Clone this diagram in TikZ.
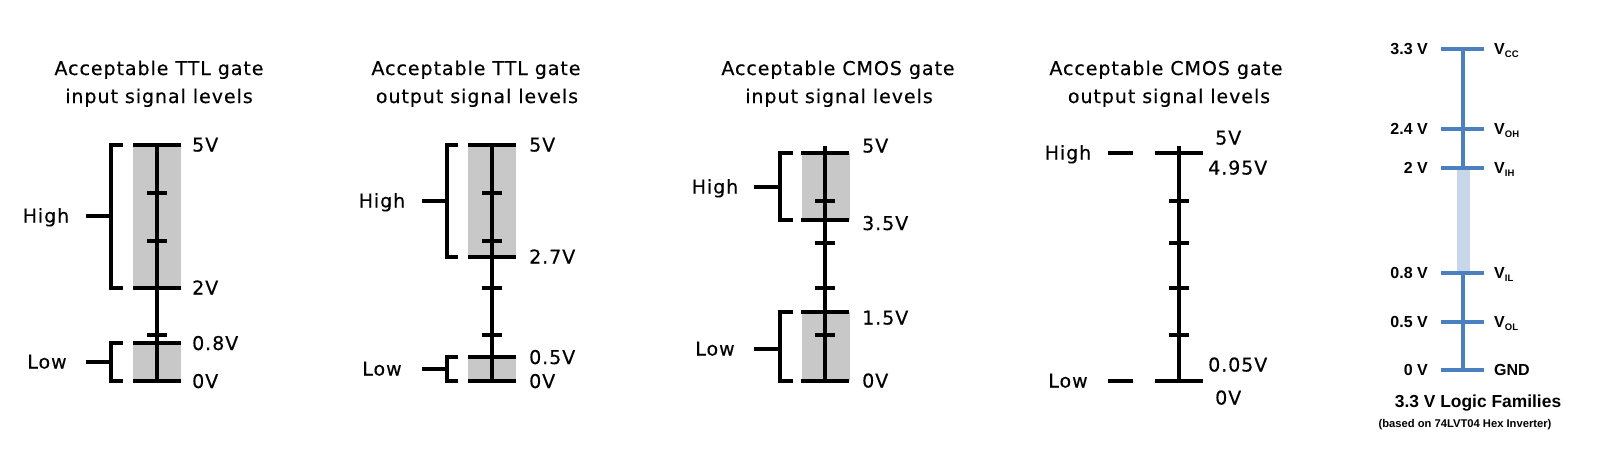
\documentclass[tikz,border=0pt]{standalone}
\usepackage{fontspec}
\setmainfont{DejaVu Sans}[LetterSpace=5,FakeBold=0.35]
\newfontfamily\arialf{Liberation Sans}
\definecolor{boxgray}{RGB}{200,200,200}
\definecolor{lblue}{RGB}{74,128,192}
\definecolor{bandblue}{RGB}{200,214,234}
\newcommand\lngtick[2]{\draw[ln] ({#1-24},#2) -- ({#1+24},#2);}
\newcommand\shtick[2]{\draw[ln] ({#1-10},#2) -- ({#1+10},#2);}
\newcommand\bluetick[1]{\draw[bl] (1441,#1) -- (1484,#1);}
\begin{document}
\begin{tikzpicture}[x=1pt,y=-1pt,
  ln/.style={line width=3.2pt,black},
  bl/.style={line width=3.3pt,lblue},
  txt/.style={font=\fontsize{19}{21}\selectfont,inner sep=0pt},
  bt/.style={font=\arialf\bfseries\fontsize{16}{18}\selectfont,inner sep=0pt}]
\useasboundingbox[fill=white] (0,0) rectangle (1600,458);

% ---------- Panel 1: TTL input ----------
\node[txt,anchor=base] (t1a) at (159,75) {Acceptable TTL gate};
\node[txt,anchor=base] (t1b) at (159,103) {input signal levels};
\fill[boxgray] (133,145) rectangle (181,288);
\fill[boxgray] (133,343) rectangle (181,381);
\draw[ln] (157,145) -- (157,381);
\lngtick{157}{145}\lngtick{157}{288}\lngtick{157}{343}\lngtick{157}{381}
\shtick{157}{193}\shtick{157}{241}\shtick{157}{335}
\draw[ln] (123,145) -- (111,145) -- (111,288) -- (123,288);
\draw[ln] (86,216) -- (111,216);
\draw[ln] (123,343) -- (111,343) -- (111,381) -- (123,381);
\draw[ln] (86,362) -- (111,362);
\node[txt,anchor=base] (h1) at (46,222.5) {High};
\node[txt,anchor=base] (l1) at (47,368.5) {Low};
\node[txt,anchor=base west] (v1a) at (192,151.5) {5V};
\node[txt,anchor=base west] (v1b) at (192,294.5) {2V};
\node[txt,anchor=base west] (v1c) at (192,350) {0.8V};
\node[txt,anchor=base west] (v1d) at (192,388) {0V};

% ---------- Panel 2: TTL output ----------
\node[txt,anchor=base] (t2a) at (476,75) {Acceptable TTL gate};
\node[txt,anchor=base] (t2b) at (477,103) {output signal levels};
\fill[boxgray] (468,145) rectangle (516,257);
\fill[boxgray] (468,357) rectangle (516,381);
\draw[ln] (492,145) -- (492,381);
\lngtick{492}{145}\lngtick{492}{257}\lngtick{492}{357}\lngtick{492}{381}
\shtick{492}{193}\shtick{492}{241}\shtick{492}{288}\shtick{492}{335}
\draw[ln] (458,145) -- (447,145) -- (447,257) -- (458,257);
\draw[ln] (422,201) -- (447,201);
\draw[ln] (458,357) -- (447,357) -- (447,381) -- (458,381);
\draw[ln] (422,369) -- (447,369);
\node[txt,anchor=base] (h2) at (382,207.5) {High};
\node[txt,anchor=base] (l2) at (382,375.5) {Low};
\node[txt,anchor=base west] (v2a) at (529,151.5) {5V};
\node[txt,anchor=base west] (v2b) at (529,263.5) {2.7V};
\node[txt,anchor=base west] (v2c) at (529,364) {0.5V};
\node[txt,anchor=base west] (v2d) at (529,388) {0V};

% ---------- Panel 3: CMOS input ----------
\node[txt,anchor=base] (t3a) at (838,75) {Acceptable CMOS gate};
\node[txt,anchor=base] (t3b) at (839,103) {input signal levels};
\fill[boxgray] (802,153) rectangle (850,220);
\fill[boxgray] (802,312) rectangle (850,381);
\draw[ln] (825,146) -- (825,381);
\lngtick{825}{153}\lngtick{825}{220}\lngtick{825}{312}\lngtick{825}{381}
\shtick{825}{201}\shtick{825}{243}\shtick{825}{288}\shtick{825}{335}
\draw[ln] (793,153) -- (780,153) -- (780,220) -- (793,220);
\draw[ln] (754,187) -- (780,187);
\draw[ln] (793,312) -- (780,312) -- (780,381) -- (793,381);
\draw[ln] (754,349) -- (780,349);
\node[txt,anchor=base] (h3) at (715,193.5) {High};
\node[txt,anchor=base] (l3) at (715,355.5) {Low};
\node[txt,anchor=base west] (v3a) at (862,152.5) {5V};
\node[txt,anchor=base west] (v3b) at (862,230) {3.5V};
\node[txt,anchor=base west] (v3c) at (862,324.5) {1.5V};
\node[txt,anchor=base west] (v3d) at (862,387.5) {0V};

% ---------- Panel 4: CMOS output ----------
\node[txt,anchor=base] (t4a) at (1166,75) {Acceptable CMOS gate};
\node[txt,anchor=base] (t4b) at (1169,103) {output signal levels};
\draw[ln] (1179,146) -- (1179,381);
\lngtick{1179}{153}\lngtick{1179}{381}
\shtick{1179}{201}\shtick{1179}{243}\shtick{1179}{288}\shtick{1179}{335}
\draw[ln] (1108,153) -- (1133,153);
\draw[ln] (1108,381) -- (1133,381);
\node[txt,anchor=base] (h4) at (1068,159.5) {High};
\node[txt,anchor=base] (l4) at (1068,387.5) {Low};
\node[txt,anchor=base west] (v4a) at (1215,144.5) {5V};
\node[txt,anchor=base west] (v4b) at (1208,174.5) {4.95V};
\node[txt,anchor=base west] (v4c) at (1208,371.5) {0.05V};
\node[txt,anchor=base west] (v4d) at (1215,404.5) {0V};

% ---------- Panel 5: 3.3 V logic ----------
\fill[bandblue] (1457,168) rectangle (1470,273);
\draw[bl,line width=3.8pt] (1463,49) -- (1463,168);
\draw[bl,line width=3.8pt] (1463,273) -- (1463,370);
\bluetick{49}\bluetick{129}\bluetick{168}\bluetick{273}\bluetick{322}\bluetick{370}
\node[bt,anchor=base east] (a1) at (1428,54.7) {3.3 V};
\node[bt,anchor=base east] (a2) at (1428,134.7) {2.4 V};
\node[bt,anchor=base east] (a3) at (1428,173.7) {2 V};
\node[bt,anchor=base east] (a4) at (1428,278.7) {0.8 V};
\node[bt,anchor=base east] (a5) at (1428,327.7) {0.5 V};
\node[bt,anchor=base east] (a6) at (1428,375.7) {0 V};
\node[bt,anchor=base west] (b1) at (1494,54.7) {V\raisebox{-3pt}{\arialf\bfseries\fontsize{9.5}{10}\selectfont CC}};
\node[bt,anchor=base west] (b2) at (1494,134.7) {V\raisebox{-3pt}{\arialf\bfseries\fontsize{9.5}{10}\selectfont OH}};
\node[bt,anchor=base west] (b3) at (1494,173.7) {V\raisebox{-3pt}{\arialf\bfseries\fontsize{9.5}{10}\selectfont IH}};
\node[bt,anchor=base west] (b4) at (1494,278.7) {V\raisebox{-3pt}{\arialf\bfseries\fontsize{9.5}{10}\selectfont IL}};
\node[bt,anchor=base west] (b5) at (1494,327.7) {V\raisebox{-3pt}{\arialf\bfseries\fontsize{9.5}{10}\selectfont OL}};
\node[bt,anchor=base west] (b6) at (1494,375.7) {GND};
\node[bt,anchor=base,font=\arialf\bfseries\fontsize{17.4}{19}\selectfont] (lf) at (1478,407) {3.3 V Logic Families};
\node[bt,anchor=base,font=\arialf\bfseries\fontsize{11.2}{12}\selectfont] (lfs) at (1465,427) {(based on 74LVT04 Hex Inverter)};
\end{tikzpicture}
\end{document}
